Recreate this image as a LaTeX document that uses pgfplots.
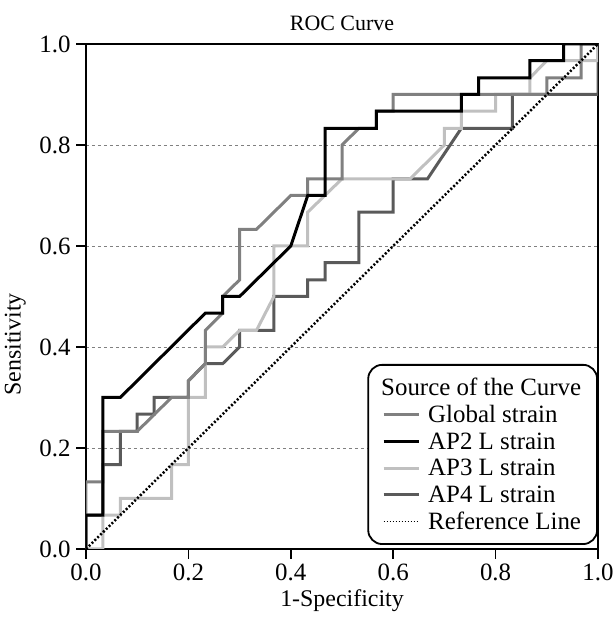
\documentclass[border=0pt]{standalone}
\usepackage{fontspec}
\setmainfont{Liberation Serif}
\usepackage{pgfplots}
\pgfplotsset{compat=1.18}
\definecolor{cGlobal}{HTML}{808080}
\definecolor{cAPthree}{HTML}{C0C0C0}
\definecolor{cAPfour}{HTML}{5A5A5A}
\begin{document}
\begin{tikzpicture}
\begin{axis}[
  scale only axis, width=512bp, height=505bp,
  xmin=0, xmax=1, ymin=0, ymax=1,
  xtick={0,0.2,0.4,0.6,0.8,1}, ytick={0,0.2,0.4,0.6,0.8,1},
  /pgf/number format/assume math mode=true,
  /pgf/number format/fixed, /pgf/number format/fixed zerofill, /pgf/number format/precision=1,
  tick label style={font=\fontsize{25}{28}\selectfont},
  xticklabel style={yshift=-1bp},
  yticklabel style={xshift=-2bp},
  tick align=outside, xtick pos=bottom, ytick pos=left,
  major tick length=10bp,
  tick style={black, line width=1.5bp},
  axis line style={line width=2bp},
  ymajorgrids, grid style={dashed, gray, line width=0.8bp},
  title={ROC Curve},
  title style={font=\fontsize{22}{26}\selectfont, at={(axis description cs:0.5,1.03)}, anchor=center},
  xlabel={1-Specificity},
  xlabel style={font=\fontsize{24}{28}\selectfont, at={(axis description cs:0.5,-0.103)}, anchor=center},
  ylabel={Sensitivity},
  ylabel style={font=\fontsize{24}{28}\selectfont, at={(axis description cs:-0.138,0.405)}, anchor=center},
  legend style={at={(1,0.008)}, anchor=south east, draw=black, line width=1.8bp,
    rounded corners=14bp, fill=white, font=\fontsize{25}{28}\selectfont,
    inner xsep=14bp, inner ysep=11bp, row sep=4.5bp},
  legend cell align=left,
  legend image code/.code={\draw[#1] (0bp,0bp) -- (35bp,0bp); \path (41bp,0bp);},
]
\addplot[cAPfour, line width=3bp, forget plot] coordinates {
(0,0) (0,0.067) (0.033,0.067) (0.033,0.167) (0.067,0.167) (0.067,0.233) (0.1,0.233) (0.1,0.267) (0.133,0.267) (0.133,0.3) (0.2,0.3) (0.2,0.333) (0.233,0.367) (0.267,0.367) (0.3,0.4) (0.3,0.433) (0.367,0.433) (0.367,0.5) (0.433,0.5) (0.433,0.533) (0.467,0.533) (0.467,0.567) (0.533,0.567) (0.533,0.667) (0.6,0.667) (0.6,0.733) (0.667,0.733) (0.733,0.833) (0.833,0.833) (0.833,0.9) (1,0.9) (1,1)
};
\addplot[cAPthree, line width=3bp, forget plot] coordinates {
(0,0) (0.033,0) (0.033,0.067) (0.067,0.067) (0.067,0.1) (0.167,0.1) (0.167,0.167) (0.2,0.167) (0.2,0.3) (0.233,0.3) (0.233,0.4) (0.267,0.4) (0.3,0.433) (0.333,0.433) (0.367,0.5) (0.367,0.6) (0.433,0.6) (0.433,0.667) (0.5,0.733) (0.633,0.733) (0.7,0.8) (0.7,0.833) (0.733,0.833) (0.733,0.867) (0.8,0.867) (0.8,0.9) (0.867,0.9) (0.867,0.933) (0.9,0.967) (1,0.967) (1,1)
};
\addplot[cGlobal, line width=3bp, forget plot] coordinates {
(0,0) (0,0.133) (0.033,0.133) (0.033,0.233) (0.1,0.233) (0.167,0.3) (0.2,0.3) (0.2,0.333) (0.233,0.367) (0.233,0.433) (0.267,0.467) (0.267,0.5) (0.3,0.533) (0.3,0.633) (0.333,0.633) (0.4,0.7) (0.433,0.7) (0.433,0.733) (0.5,0.733) (0.5,0.8) (0.533,0.833) (0.567,0.833) (0.567,0.867) (0.6,0.867) (0.6,0.9) (0.9,0.9) (0.9,0.933) (0.967,0.933) (0.967,1) (1,1)
};
\addplot[black, line width=3bp, forget plot] coordinates {
(0,0) (0,0.067) (0.033,0.067) (0.033,0.3) (0.067,0.3) (0.233,0.467) (0.267,0.467) (0.267,0.5) (0.3,0.5) (0.4,0.6) (0.433,0.7) (0.467,0.7) (0.467,0.833) (0.567,0.833) (0.567,0.867) (0.733,0.867) (0.733,0.9) (0.767,0.9) (0.767,0.933) (0.867,0.933) (0.867,0.967) (0.933,0.967) (0.933,1) (1,1)
};
\addplot[black, line width=2.5bp, dash pattern=on 2bp off 2bp, forget plot] coordinates {(0,0) (1,1)};
\addlegendimage{empty legend}
\addlegendentry{\hspace{-47bp}Source of the Curve}
\addlegendimage{cGlobal, line width=3bp}
\addlegendentry{Global strain}
\addlegendimage{black, line width=3bp}
\addlegendentry{AP2 L strain}
\addlegendimage{cAPthree, line width=3bp}
\addlegendentry{AP3 L strain}
\addlegendimage{cAPfour, line width=3bp}
\addlegendentry{AP4 L strain}
\addlegendimage{black, line width=1.5bp, dash pattern=on 1.5bp off 1.5bp}
\addlegendentry{Reference Line}
\end{axis}
\pgfresetboundingbox
\path[use as bounding box] (-86bp,-85bp) rectangle (527bp,549bp);
\end{tikzpicture}
\end{document}
